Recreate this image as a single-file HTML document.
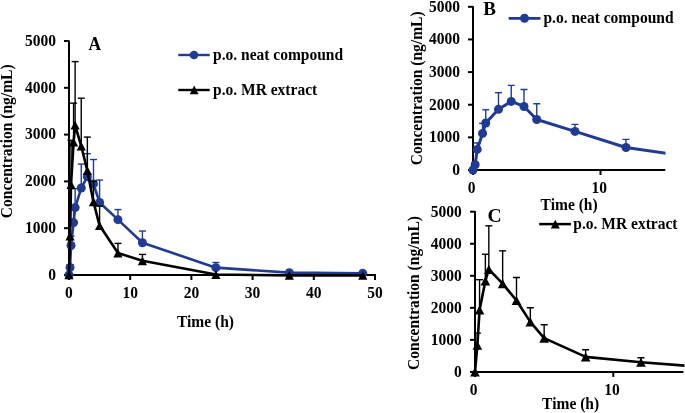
<!DOCTYPE html><html><head><meta charset="utf-8"><style>html,body{margin:0;padding:0;background:#fff;}svg{display:block;will-change:transform;}</style></head><body>
<svg width="685" height="413" viewBox="0 0 685 413" font-family="&quot;Liberation Serif&quot;, serif" font-weight="bold" font-size="16">
<rect width="685" height="413" fill="#fff"/>
<clipPath id="ca"><rect x="61" y="0" width="319" height="281"/></clipPath>
<line x1="64" y1="275" x2="69" y2="275" stroke="#000" stroke-width="2"/>
<text transform="translate(55.9,279.8) scale(0.97,1)" text-anchor="end">0</text>
<line x1="64" y1="228.2" x2="69" y2="228.2" stroke="#000" stroke-width="2"/>
<text transform="translate(55.9,233) scale(0.97,1)" text-anchor="end">1000</text>
<line x1="64" y1="181.4" x2="69" y2="181.4" stroke="#000" stroke-width="2"/>
<text transform="translate(55.9,186.2) scale(0.97,1)" text-anchor="end">2000</text>
<line x1="64" y1="134.6" x2="69" y2="134.6" stroke="#000" stroke-width="2"/>
<text transform="translate(55.9,139.4) scale(0.97,1)" text-anchor="end">3000</text>
<line x1="64" y1="87.8" x2="69" y2="87.8" stroke="#000" stroke-width="2"/>
<text transform="translate(55.9,92.6) scale(0.97,1)" text-anchor="end">4000</text>
<line x1="64" y1="41" x2="69" y2="41" stroke="#000" stroke-width="2"/>
<text transform="translate(55.9,45.8) scale(0.97,1)" text-anchor="end">5000</text>
<line x1="69" y1="275" x2="69" y2="280" stroke="#000" stroke-width="2"/>
<text transform="translate(69,298.4) scale(0.97,1)" text-anchor="middle">0</text>
<line x1="130.2" y1="275" x2="130.2" y2="280" stroke="#000" stroke-width="2"/>
<text transform="translate(130.2,298.4) scale(0.97,1)" text-anchor="middle">10</text>
<line x1="191.4" y1="275" x2="191.4" y2="280" stroke="#000" stroke-width="2"/>
<text transform="translate(191.4,298.4) scale(0.97,1)" text-anchor="middle">20</text>
<line x1="252.6" y1="275" x2="252.6" y2="280" stroke="#000" stroke-width="2"/>
<text transform="translate(252.6,298.4) scale(0.97,1)" text-anchor="middle">30</text>
<line x1="313.8" y1="275" x2="313.8" y2="280" stroke="#000" stroke-width="2"/>
<text transform="translate(313.8,298.4) scale(0.97,1)" text-anchor="middle">40</text>
<line x1="375" y1="275" x2="375" y2="280" stroke="#000" stroke-width="2"/>
<text transform="translate(375,298.4) scale(0.97,1)" text-anchor="middle">50</text>
<line x1="69" y1="40.4" x2="69" y2="276" stroke="#000" stroke-width="2"/>
<line x1="68" y1="275" x2="376" y2="275" stroke="#000" stroke-width="2"/>
<g clip-path="url(#ca)">
<line x1="70.04" y1="267.51" x2="70.04" y2="264.7" stroke="#1F3B94" stroke-width="1.4"/>
<line x1="66.54" y1="264.7" x2="73.54" y2="264.7" stroke="#1F3B94" stroke-width="1.4"/>
<line x1="71.02" y1="245.52" x2="71.02" y2="236.2" stroke="#1F3B94" stroke-width="1.4"/>
<line x1="67.52" y1="236.2" x2="74.52" y2="236.2" stroke="#1F3B94" stroke-width="1.4"/>
<line x1="73.59" y1="222.58" x2="73.59" y2="208.17" stroke="#1F3B94" stroke-width="1.4"/>
<line x1="70.09" y1="208.17" x2="77.09" y2="208.17" stroke="#1F3B94" stroke-width="1.4"/>
<line x1="75.12" y1="207.61" x2="75.12" y2="188.65" stroke="#1F3B94" stroke-width="1.4"/>
<line x1="71.62" y1="188.65" x2="78.62" y2="188.65" stroke="#1F3B94" stroke-width="1.4"/>
<line x1="81.24" y1="188.05" x2="81.24" y2="164.08" stroke="#1F3B94" stroke-width="1.4"/>
<line x1="77.74" y1="164.08" x2="84.74" y2="164.08" stroke="#1F3B94" stroke-width="1.4"/>
<line x1="87.36" y1="176.63" x2="87.36" y2="153.65" stroke="#1F3B94" stroke-width="1.4"/>
<line x1="83.86" y1="153.65" x2="90.86" y2="153.65" stroke="#1F3B94" stroke-width="1.4"/>
<line x1="93.48" y1="183.93" x2="93.48" y2="159.5" stroke="#1F3B94" stroke-width="1.4"/>
<line x1="89.98" y1="159.5" x2="96.98" y2="159.5" stroke="#1F3B94" stroke-width="1.4"/>
<line x1="99.6" y1="202.55" x2="99.6" y2="180.09" stroke="#1F3B94" stroke-width="1.4"/>
<line x1="96.1" y1="180.09" x2="103.1" y2="180.09" stroke="#1F3B94" stroke-width="1.4"/>
<line x1="117.96" y1="219.64" x2="117.96" y2="209.57" stroke="#1F3B94" stroke-width="1.4"/>
<line x1="114.46" y1="209.57" x2="121.46" y2="209.57" stroke="#1F3B94" stroke-width="1.4"/>
<line x1="142.44" y1="242.71" x2="142.44" y2="231.05" stroke="#1F3B94" stroke-width="1.4"/>
<line x1="138.94" y1="231.05" x2="145.94" y2="231.05" stroke="#1F3B94" stroke-width="1.4"/>
<line x1="215.88" y1="267.65" x2="215.88" y2="262.5" stroke="#1F3B94" stroke-width="1.4"/>
<line x1="212.38" y1="262.5" x2="219.38" y2="262.5" stroke="#1F3B94" stroke-width="1.4"/>
<polyline points="69,275 70.04,267.51 71.02,245.52 73.59,222.58 75.12,207.61 81.24,188.05 87.36,176.63 93.48,183.93 99.6,202.55 117.96,219.64 142.44,242.71 215.88,267.65 289.32,272.66 362.76,273.32" fill="none" stroke="#1F3B94" stroke-width="2.6" stroke-linejoin="round"/>
<circle cx="69" cy="275" r="4.5" fill="#1F3B94"/>
<circle cx="70.04" cy="267.51" r="4.5" fill="#1F3B94"/>
<circle cx="71.02" cy="245.52" r="4.5" fill="#1F3B94"/>
<circle cx="73.59" cy="222.58" r="4.5" fill="#1F3B94"/>
<circle cx="75.12" cy="207.61" r="4.5" fill="#1F3B94"/>
<circle cx="81.24" cy="188.05" r="4.5" fill="#1F3B94"/>
<circle cx="87.36" cy="176.63" r="4.5" fill="#1F3B94"/>
<circle cx="93.48" cy="183.93" r="4.5" fill="#1F3B94"/>
<circle cx="99.6" cy="202.55" r="4.5" fill="#1F3B94"/>
<circle cx="117.96" cy="219.64" r="4.5" fill="#1F3B94"/>
<circle cx="142.44" cy="242.71" r="4.5" fill="#1F3B94"/>
<circle cx="215.88" cy="267.65" r="4.5" fill="#1F3B94"/>
<circle cx="289.32" cy="272.66" r="4.5" fill="#1F3B94"/>
<circle cx="362.76" cy="273.32" r="4.5" fill="#1F3B94"/>
</g>
<g clip-path="url(#ca)">
<line x1="71.02" y1="184.63" x2="71.02" y2="140.31" stroke="#000" stroke-width="1.4"/>
<line x1="67.52" y1="140.31" x2="74.52" y2="140.31" stroke="#000" stroke-width="1.4"/>
<line x1="73.59" y1="142.09" x2="73.59" y2="103.15" stroke="#000" stroke-width="1.4"/>
<line x1="70.09" y1="103.15" x2="77.09" y2="103.15" stroke="#000" stroke-width="1.4"/>
<line x1="75.12" y1="125.24" x2="75.12" y2="61.59" stroke="#000" stroke-width="1.4"/>
<line x1="71.62" y1="61.59" x2="78.62" y2="61.59" stroke="#000" stroke-width="1.4"/>
<line x1="81.24" y1="146.02" x2="81.24" y2="98.19" stroke="#000" stroke-width="1.4"/>
<line x1="77.74" y1="98.19" x2="84.74" y2="98.19" stroke="#000" stroke-width="1.4"/>
<line x1="87.36" y1="170.73" x2="87.36" y2="137.08" stroke="#000" stroke-width="1.4"/>
<line x1="83.86" y1="137.08" x2="90.86" y2="137.08" stroke="#000" stroke-width="1.4"/>
<line x1="93.48" y1="201.9" x2="93.48" y2="181.4" stroke="#000" stroke-width="1.4"/>
<line x1="89.98" y1="181.4" x2="96.98" y2="181.4" stroke="#000" stroke-width="1.4"/>
<line x1="99.6" y1="225.58" x2="99.6" y2="206.11" stroke="#000" stroke-width="1.4"/>
<line x1="96.1" y1="206.11" x2="103.1" y2="206.11" stroke="#000" stroke-width="1.4"/>
<line x1="117.96" y1="253.05" x2="117.96" y2="243.41" stroke="#000" stroke-width="1.4"/>
<line x1="114.46" y1="243.41" x2="121.46" y2="243.41" stroke="#000" stroke-width="1.4"/>
<line x1="142.44" y1="260.82" x2="142.44" y2="254.41" stroke="#000" stroke-width="1.4"/>
<line x1="138.94" y1="254.41" x2="145.94" y2="254.41" stroke="#000" stroke-width="1.4"/>
<polyline points="69,275 70.04,236.16 71.02,184.63 73.59,142.09 75.12,125.24 81.24,146.02 87.36,170.73 93.48,201.9 99.6,225.58 117.96,253.05 142.44,260.82 215.88,274.53 289.32,275.37 362.76,275.37" fill="none" stroke="#000" stroke-width="2.6" stroke-linejoin="round"/>
<path d="M69,270.63 L73.6,279.37 L64.4,279.37Z" fill="#000"/>
<path d="M70.04,231.79 L74.64,240.53 L65.44,240.53Z" fill="#000"/>
<path d="M71.02,180.26 L75.62,189 L66.42,189Z" fill="#000"/>
<path d="M73.59,137.72 L78.19,146.46 L68.99,146.46Z" fill="#000"/>
<path d="M75.12,120.87 L79.72,129.61 L70.52,129.61Z" fill="#000"/>
<path d="M81.24,141.65 L85.84,150.39 L76.64,150.39Z" fill="#000"/>
<path d="M87.36,166.36 L91.96,175.1 L82.76,175.1Z" fill="#000"/>
<path d="M93.48,197.53 L98.08,206.27 L88.88,206.27Z" fill="#000"/>
<path d="M99.6,221.21 L104.2,229.95 L95,229.95Z" fill="#000"/>
<path d="M117.96,248.68 L122.56,257.42 L113.36,257.42Z" fill="#000"/>
<path d="M142.44,256.45 L147.04,265.19 L137.84,265.19Z" fill="#000"/>
<path d="M215.88,270.16 L220.48,278.9 L211.28,278.9Z" fill="#000"/>
<path d="M289.32,271 L293.92,279.74 L284.72,279.74Z" fill="#000"/>
<path d="M362.76,271 L367.36,279.74 L358.16,279.74Z" fill="#000"/>
</g>
<text transform="translate(205.5,326.6) scale(0.97,1)" text-anchor="middle">Time (h)</text>
<text transform="translate(12.1,141.3) rotate(-90) scale(0.97,1)" text-anchor="middle">Concentration (ng/mL)</text>
<text transform="translate(88.5,50.2) scale(0.97,1)" font-size="18">A</text>
<line x1="178.3" y1="55" x2="209.7" y2="55" stroke="#1F3B94" stroke-width="2.4"/><circle cx="194" cy="55" r="4.3" fill="#1F3B94"/>
<text transform="translate(213,59.8) scale(0.97,1)">p.o. neat compound</text>
<line x1="178.3" y1="90" x2="209.7" y2="90" stroke="#000" stroke-width="2.4"/><path d="M194.2,85.6 L198.6,94.2 L189.8,94.2Z" fill="#000"/>
<text transform="translate(213,94.9) scale(0.97,1)">p.o. MR extract</text>
<clipPath id="cb"><rect x="465" y="0" width="200.5" height="176"/></clipPath>
<line x1="468" y1="170" x2="473" y2="170" stroke="#000" stroke-width="2"/>
<text transform="translate(459.9,175) scale(0.97,1)" text-anchor="end">0</text>
<line x1="468" y1="137.36" x2="473" y2="137.36" stroke="#000" stroke-width="2"/>
<text transform="translate(459.9,142.36) scale(0.97,1)" text-anchor="end">1000</text>
<line x1="468" y1="104.72" x2="473" y2="104.72" stroke="#000" stroke-width="2"/>
<text transform="translate(459.9,109.72) scale(0.97,1)" text-anchor="end">2000</text>
<line x1="468" y1="72.08" x2="473" y2="72.08" stroke="#000" stroke-width="2"/>
<text transform="translate(459.9,77.08) scale(0.97,1)" text-anchor="end">3000</text>
<line x1="468" y1="39.44" x2="473" y2="39.44" stroke="#000" stroke-width="2"/>
<text transform="translate(459.9,44.44) scale(0.97,1)" text-anchor="end">4000</text>
<line x1="468" y1="6.8" x2="473" y2="6.8" stroke="#000" stroke-width="2"/>
<text transform="translate(459.9,11.8) scale(0.97,1)" text-anchor="end">5000</text>
<line x1="473" y1="170" x2="473" y2="175" stroke="#000" stroke-width="2"/>
<text transform="translate(471.7,193.4) scale(0.97,1)" text-anchor="middle">0</text>
<line x1="600.5" y1="170" x2="600.5" y2="175" stroke="#000" stroke-width="2"/>
<text transform="translate(599.2,193.4) scale(0.97,1)" text-anchor="middle">10</text>
<line x1="473" y1="6.2" x2="473" y2="171" stroke="#000" stroke-width="2"/>
<line x1="472" y1="170" x2="665.25" y2="170" stroke="#000" stroke-width="2"/>
<g clip-path="url(#cb)">
<line x1="475.17" y1="164.78" x2="475.17" y2="162.82" stroke="#1F3B94" stroke-width="1.4"/>
<line x1="471.67" y1="162.82" x2="478.67" y2="162.82" stroke="#1F3B94" stroke-width="1.4"/>
<line x1="477.21" y1="149.44" x2="477.21" y2="142.94" stroke="#1F3B94" stroke-width="1.4"/>
<line x1="473.71" y1="142.94" x2="480.71" y2="142.94" stroke="#1F3B94" stroke-width="1.4"/>
<line x1="482.56" y1="133.44" x2="482.56" y2="123.39" stroke="#1F3B94" stroke-width="1.4"/>
<line x1="479.06" y1="123.39" x2="486.06" y2="123.39" stroke="#1F3B94" stroke-width="1.4"/>
<line x1="485.75" y1="123" x2="485.75" y2="109.78" stroke="#1F3B94" stroke-width="1.4"/>
<line x1="482.25" y1="109.78" x2="489.25" y2="109.78" stroke="#1F3B94" stroke-width="1.4"/>
<line x1="498.5" y1="109.35" x2="498.5" y2="92.64" stroke="#1F3B94" stroke-width="1.4"/>
<line x1="495" y1="92.64" x2="502" y2="92.64" stroke="#1F3B94" stroke-width="1.4"/>
<line x1="511.25" y1="101.39" x2="511.25" y2="85.36" stroke="#1F3B94" stroke-width="1.4"/>
<line x1="507.75" y1="85.36" x2="514.75" y2="85.36" stroke="#1F3B94" stroke-width="1.4"/>
<line x1="524" y1="106.48" x2="524" y2="89.44" stroke="#1F3B94" stroke-width="1.4"/>
<line x1="520.5" y1="89.44" x2="527.5" y2="89.44" stroke="#1F3B94" stroke-width="1.4"/>
<line x1="536.75" y1="119.47" x2="536.75" y2="103.81" stroke="#1F3B94" stroke-width="1.4"/>
<line x1="533.25" y1="103.81" x2="540.25" y2="103.81" stroke="#1F3B94" stroke-width="1.4"/>
<line x1="575" y1="131.39" x2="575" y2="124.37" stroke="#1F3B94" stroke-width="1.4"/>
<line x1="571.5" y1="124.37" x2="578.5" y2="124.37" stroke="#1F3B94" stroke-width="1.4"/>
<line x1="626" y1="147.48" x2="626" y2="139.35" stroke="#1F3B94" stroke-width="1.4"/>
<line x1="622.5" y1="139.35" x2="629.5" y2="139.35" stroke="#1F3B94" stroke-width="1.4"/>
<polyline points="473,170 475.17,164.78 477.21,149.44 482.56,133.44 485.75,123 498.5,109.35 511.25,101.39 524,106.48 536.75,119.47 575,131.39 626,147.48 779,169.45 932,170 1085,170" fill="none" stroke="#1F3B94" stroke-width="3" stroke-linejoin="round"/>
<circle cx="473" cy="170" r="4.5" fill="#1F3B94"/>
<circle cx="475.17" cy="164.78" r="4.5" fill="#1F3B94"/>
<circle cx="477.21" cy="149.44" r="4.5" fill="#1F3B94"/>
<circle cx="482.56" cy="133.44" r="4.5" fill="#1F3B94"/>
<circle cx="485.75" cy="123" r="4.5" fill="#1F3B94"/>
<circle cx="498.5" cy="109.35" r="4.5" fill="#1F3B94"/>
<circle cx="511.25" cy="101.39" r="4.5" fill="#1F3B94"/>
<circle cx="524" cy="106.48" r="4.5" fill="#1F3B94"/>
<circle cx="536.75" cy="119.47" r="4.5" fill="#1F3B94"/>
<circle cx="575" cy="131.39" r="4.5" fill="#1F3B94"/>
<circle cx="626" cy="147.48" r="4.5" fill="#1F3B94"/>
</g>
<text transform="translate(569.1,209.7) scale(0.97,1)" text-anchor="middle">Time (h)</text>
<text transform="translate(421.7,88.3) rotate(-90) scale(0.97,1)" text-anchor="middle">Concentration (ng/mL)</text>
<text transform="translate(483.3,14.5)" font-size="19">B</text>
<line x1="508.6" y1="18.4" x2="540.5" y2="18.4" stroke="#1F3B94" stroke-width="2.8"/><circle cx="524.5" cy="18.3" r="4.5" fill="#1F3B94"/>
<text transform="translate(543.4,23.3) scale(0.97,1)">p.o. neat compound</text>
<clipPath id="cc"><rect x="467" y="0" width="217.5" height="377.9"/></clipPath>
<line x1="470" y1="371.9" x2="475" y2="371.9" stroke="#000" stroke-width="2"/>
<text transform="translate(461.8,376.9) scale(0.97,1)" text-anchor="end">0</text>
<line x1="470" y1="339.86" x2="475" y2="339.86" stroke="#000" stroke-width="2"/>
<text transform="translate(461.8,344.86) scale(0.97,1)" text-anchor="end">1000</text>
<line x1="470" y1="307.82" x2="475" y2="307.82" stroke="#000" stroke-width="2"/>
<text transform="translate(461.8,312.82) scale(0.97,1)" text-anchor="end">2000</text>
<line x1="470" y1="275.78" x2="475" y2="275.78" stroke="#000" stroke-width="2"/>
<text transform="translate(461.8,280.78) scale(0.97,1)" text-anchor="end">3000</text>
<line x1="470" y1="243.74" x2="475" y2="243.74" stroke="#000" stroke-width="2"/>
<text transform="translate(461.8,248.74) scale(0.97,1)" text-anchor="end">4000</text>
<line x1="470" y1="211.7" x2="475" y2="211.7" stroke="#000" stroke-width="2"/>
<text transform="translate(461.8,216.7) scale(0.97,1)" text-anchor="end">5000</text>
<line x1="475" y1="371.9" x2="475" y2="376.9" stroke="#000" stroke-width="2"/>
<text transform="translate(473.6,394.9) scale(0.97,1)" text-anchor="middle">0</text>
<line x1="613.3" y1="371.9" x2="613.3" y2="376.9" stroke="#000" stroke-width="2"/>
<text transform="translate(611.9,394.9) scale(0.97,1)" text-anchor="middle">10</text>
<line x1="475" y1="211.1" x2="475" y2="372.9" stroke="#000" stroke-width="2"/>
<line x1="474" y1="371.9" x2="683.45" y2="371.9" stroke="#000" stroke-width="2"/>
<g clip-path="url(#cc)">
<line x1="477.35" y1="345.31" x2="477.35" y2="333.16" stroke="#000" stroke-width="1.4"/>
<line x1="473.85" y1="333.16" x2="480.85" y2="333.16" stroke="#000" stroke-width="1.4"/>
<line x1="479.56" y1="310.03" x2="479.56" y2="279.69" stroke="#000" stroke-width="1.4"/>
<line x1="476.06" y1="279.69" x2="483.06" y2="279.69" stroke="#000" stroke-width="1.4"/>
<line x1="485.37" y1="280.91" x2="485.37" y2="254.25" stroke="#000" stroke-width="1.4"/>
<line x1="481.87" y1="254.25" x2="488.87" y2="254.25" stroke="#000" stroke-width="1.4"/>
<line x1="488.83" y1="269.37" x2="488.83" y2="225.8" stroke="#000" stroke-width="1.4"/>
<line x1="485.33" y1="225.8" x2="492.33" y2="225.8" stroke="#000" stroke-width="1.4"/>
<line x1="502.66" y1="283.6" x2="502.66" y2="250.85" stroke="#000" stroke-width="1.4"/>
<line x1="499.16" y1="250.85" x2="506.16" y2="250.85" stroke="#000" stroke-width="1.4"/>
<line x1="516.49" y1="300.51" x2="516.49" y2="277.48" stroke="#000" stroke-width="1.4"/>
<line x1="512.99" y1="277.48" x2="519.99" y2="277.48" stroke="#000" stroke-width="1.4"/>
<line x1="530.32" y1="321.85" x2="530.32" y2="307.82" stroke="#000" stroke-width="1.4"/>
<line x1="526.82" y1="307.82" x2="533.82" y2="307.82" stroke="#000" stroke-width="1.4"/>
<line x1="544.15" y1="338.07" x2="544.15" y2="324.74" stroke="#000" stroke-width="1.4"/>
<line x1="540.65" y1="324.74" x2="547.65" y2="324.74" stroke="#000" stroke-width="1.4"/>
<line x1="585.64" y1="356.87" x2="585.64" y2="349.79" stroke="#000" stroke-width="1.4"/>
<line x1="582.14" y1="349.79" x2="589.14" y2="349.79" stroke="#000" stroke-width="1.4"/>
<line x1="640.96" y1="362.19" x2="640.96" y2="357.8" stroke="#000" stroke-width="1.4"/>
<line x1="637.46" y1="357.8" x2="644.46" y2="357.8" stroke="#000" stroke-width="1.4"/>
<polyline points="475,371.9 477.35,345.31 479.56,310.03 485.37,280.91 488.83,269.37 502.66,283.6 516.49,300.51 530.32,321.85 544.15,338.07 585.64,356.87 640.96,362.19 806.92,375.1 972.88,375.1 1138.84,375.1" fill="none" stroke="#000" stroke-width="2.6" stroke-linejoin="round"/>
<path d="M475,367.34 L479.8,376.46 L470.2,376.46Z" fill="#000"/>
<path d="M477.35,340.75 L482.15,349.87 L472.55,349.87Z" fill="#000"/>
<path d="M479.56,305.47 L484.36,314.59 L474.76,314.59Z" fill="#000"/>
<path d="M485.37,276.35 L490.17,285.47 L480.57,285.47Z" fill="#000"/>
<path d="M488.83,264.81 L493.63,273.93 L484.03,273.93Z" fill="#000"/>
<path d="M502.66,279.04 L507.46,288.16 L497.86,288.16Z" fill="#000"/>
<path d="M516.49,295.95 L521.29,305.07 L511.69,305.07Z" fill="#000"/>
<path d="M530.32,317.29 L535.12,326.41 L525.52,326.41Z" fill="#000"/>
<path d="M544.15,333.51 L548.95,342.63 L539.35,342.63Z" fill="#000"/>
<path d="M585.64,352.31 L590.44,361.43 L580.84,361.43Z" fill="#000"/>
<path d="M640.96,357.63 L645.76,366.75 L636.16,366.75Z" fill="#000"/>
</g>
<text transform="translate(570.6,408.5) scale(0.97,1)" text-anchor="middle">Time (h)</text>
<text transform="translate(418.8,293) rotate(-90) scale(0.97,1)" text-anchor="middle">Concentration (ng/mL)</text>
<text transform="translate(487.4,221.8)" font-size="19.6">C</text>
<line x1="539.2" y1="224.1" x2="570.9" y2="224.1" stroke="#000" stroke-width="2.5"/><path d="M555.3,219.7 L559.8,228.4 L550.8,228.4Z" fill="#000"/>
<text transform="translate(573.3,229) scale(0.97,1)">p.o. MR extract</text>
</svg></body></html>
